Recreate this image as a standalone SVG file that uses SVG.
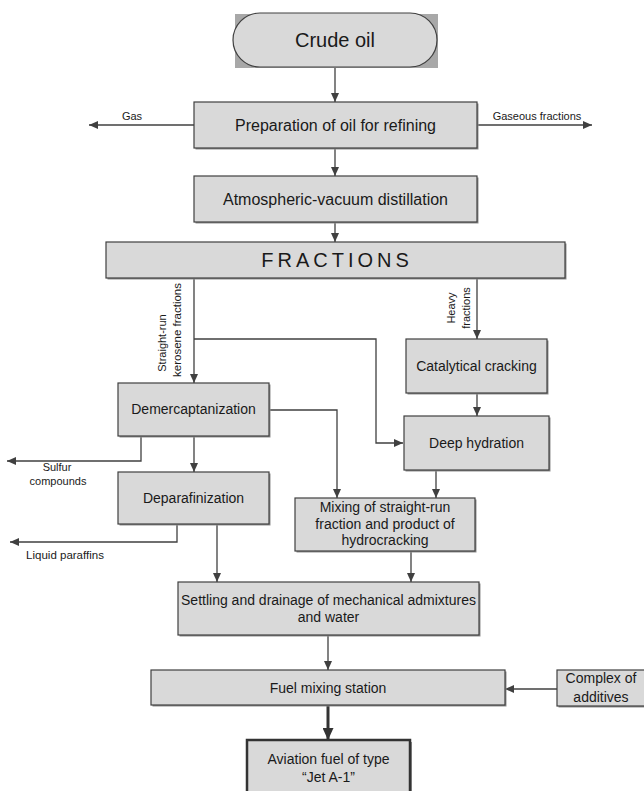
<svg xmlns="http://www.w3.org/2000/svg" width="644" height="791" viewBox="0 0 644 791">
<defs>
<style>
.box{fill:#d9d9d9;stroke:#404040;stroke-width:1.2}
.sh{fill:#8f8f8f}
.t{font-family:"Liberation Sans",Arial,sans-serif;font-size:14px;fill:#1a1a1a;text-anchor:middle}
.t16{font-size:16px}
.s{font-family:"Liberation Sans",Arial,sans-serif;font-size:11px;fill:#1a1a1a;text-anchor:middle}
.c{fill:none;stroke:#404040;stroke-width:1.3;marker-end:url(#arr)}
.ct{fill:none;stroke:#333;stroke-width:3;marker-end:url(#arrT)}
</style>
<marker id="arr" markerUnits="userSpaceOnUse" markerWidth="9" markerHeight="8" refX="9" refY="4" orient="auto">
<path d="M0,0 L9,4 L0,8 z" fill="#404040"/>
</marker>
<marker id="arrT" markerUnits="userSpaceOnUse" markerWidth="12" markerHeight="11" refX="12" refY="5.5" orient="auto">
<path d="M0,0 L12,5.5 L0,11 z" fill="#333"/>
</marker>
</defs>

<g id="connectors">
<path class="c" d="M335,67 V102"/>
<path class="c" d="M194,125 H89"/>
<path class="c" d="M477,125 H592"/>
<path class="c" d="M335,148 V176"/>
<path class="c" d="M335,222 V242"/>
<path class="c" d="M194,278 V383"/>
<path class="c" d="M194,339 H376 V443 H403"/>
<path class="c" d="M477,278 V339"/>
<path class="c" d="M477,393 V416"/>
<path class="c" d="M436,470 V498"/>
<path class="c" d="M269,410 H337 V498"/>
<path class="c" d="M194,436 V472"/>
<path class="c" d="M141,436 V461 H7"/>
<path class="c" d="M177,524 V542 H10"/>
<path class="c" d="M217,524 V582"/>
<path class="c" d="M411,551 V582"/>
<path class="c" d="M328,635 V670"/>
<path class="c" d="M557,689 H505"/>
<path class="ct" d="M328,705 V740"/>
<text class="s" x="132" y="120">Gas</text>
<text class="s" x="537" y="120">Gaseous fractions</text>
<text class="s" transform="translate(166,343) rotate(-90)">Straight-run</text>
<text class="s" transform="translate(181,330) rotate(-90)" style="font-size:11.5px">kerosene fractions</text>
<text class="s" transform="translate(455,308) rotate(-90)">Heavy</text>
<text class="s" transform="translate(470,308) rotate(-90)">fractions</text>
<text class="s" x="57" y="471">Sulfur</text>
<text class="s" x="58" y="485">compounds</text>
<text class="s" x="65" y="559" style="font-size:11.5px">Liquid paraffins</text>
</g>

<g id="crude-oil">
<rect x="235" y="14" width="203" height="54" fill="#a8a8a8"/>
<rect class="box" x="233" y="13" width="204" height="54" rx="27" ry="27"/>
<text class="t" x="335" y="47" style="font-size:20px">Crude oil</text>
</g>

<g id="preparation">
<rect class="sh" x="195.5" y="103.5" width="283" height="46"/>
<rect class="box" x="194" y="102" width="283" height="46"/>
<text class="t t16" x="335.5" y="131">Preparation of oil for refining</text>
</g>

<g id="distillation">
<rect class="sh" x="195.5" y="177.5" width="283" height="46"/>
<rect class="box" x="194" y="176" width="283" height="46"/>
<text class="t t16" x="335.5" y="205">Atmospheric-vacuum distillation</text>
</g>

<g id="fractions">
<rect class="sh" x="107.5" y="243.5" width="459" height="36"/>
<rect class="box" x="106" y="242" width="459" height="36"/>
<text class="t" x="337" y="267" style="font-size:20px;letter-spacing:4px">FRACTIONS</text>
</g>

<g id="demercaptanization">
<rect class="sh" x="119.5" y="384.5" width="151" height="53"/>
<rect class="box" x="118" y="383" width="151" height="53"/>
<text class="t" x="193.5" y="414">Demercaptanization</text>
</g>

<g id="deparafinization">
<rect class="sh" x="119.5" y="473.5" width="151" height="52"/>
<rect class="box" x="118" y="472" width="151" height="52"/>
<text class="t" x="193.5" y="503">Deparafinization</text>
</g>

<g id="catalytical-cracking">
<rect class="sh" x="407.5" y="340.5" width="141" height="54"/>
<rect class="box" x="406" y="339" width="141" height="54"/>
<text class="t" x="476.5" y="371">Catalytical cracking</text>
</g>

<g id="deep-hydration">
<rect class="sh" x="405.5" y="417.5" width="145" height="54"/>
<rect class="box" x="404" y="416" width="145" height="54"/>
<text class="t" x="476.5" y="448">Deep hydration</text>
</g>

<g id="mixing">
<rect class="sh" x="296.5" y="499.5" width="180" height="53"/>
<rect class="box" x="295" y="498" width="180" height="53"/>
<text class="t" x="385" y="512">Mixing of straight-run</text>
<text class="t" x="385" y="528.5">fraction and product of</text>
<text class="t" x="385" y="545">hydrocracking</text>
</g>

<g id="settling">
<rect class="sh" x="179.5" y="583.5" width="301" height="53"/>
<rect class="box" x="178" y="582" width="301" height="53"/>
<text class="t" x="328.5" y="605">Settling and drainage of mechanical admixtures</text>
<text class="t" x="328.5" y="622">and water</text>
</g>

<g id="fuel-mixing">
<rect class="sh" x="152.5" y="671.5" width="354" height="35"/>
<rect class="box" x="151" y="670" width="354" height="35"/>
<text class="t" x="328" y="693">Fuel mixing station</text>
</g>

<g id="additives">
<rect class="sh" x="558.5" y="671.5" width="100" height="36"/>
<rect class="box" x="557" y="670" width="100" height="36"/>
<text class="t" x="601" y="683">Complex of</text>
<text class="t" x="601" y="702">additives</text>
</g>

<g id="aviation-fuel">
<rect class="sh" x="249" y="742" width="163" height="60"/>
<rect class="box" x="247" y="740" width="163" height="60" style="stroke:#333;stroke-width:2.5"/>
<text class="t" x="328.5" y="764">Aviation fuel of type</text>
<text class="t" x="328.5" y="782">“Jet A-1”</text>
</g>
</svg>
